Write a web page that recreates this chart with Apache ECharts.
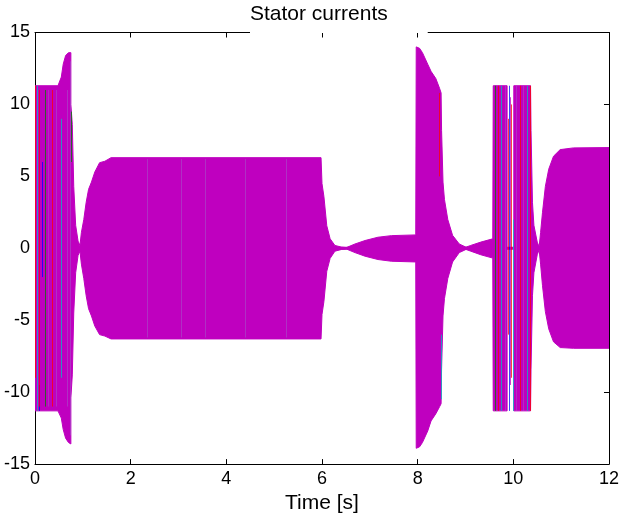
<!DOCTYPE html>
<html>
<head>
<meta charset="utf-8">
<script src="https://cdn.jsdelivr.net/npm/echarts@6/dist/echarts.min.js"></script>
<style>html,body{margin:0;padding:0;background:#fff}#c{width:622px;height:519px}</style>
</head>
<body>
<div id="c"></div>
<script>
// ---- data ----
const titleText = 'Stator currents';
const xName = 'Time [s]';
const xTicks = [0, 2, 4, 6, 8, 10, 12];
const yTicks = [-15, -10, -5, 0, 5, 10, 15];

// envelope of the stator phase currents: time [s], upper peak [A], lower peak [A]
const envTime = [0, 0.48, 0.55, 0.59, 0.64, 0.70, 0.75, 0.75, 0.78, 0.81, 0.85, 0.90, 0.94, 0.97, 1.02, 1.07, 1.12, 1.18, 1.25, 1.35, 1.46, 1.59,
  5.98, 6.00, 6.04, 6.10, 6.17, 6.27, 6.41, 6.51, 6.69, 6.90, 7.17, 7.45, 7.96,
  7.97, 8.04, 8.10, 8.21, 8.28, 8.38, 8.46, 8.49, 8.50, 8.53, 8.56, 8.63, 8.73, 8.87, 9.01, 9.11, 9.32, 9.57,
  9.58, 9.87, 9.87, 10.01, 10.01, 10.36, 10.37, 10.40, 10.43, 10.50, 10.54, 10.57, 10.61, 10.67, 10.74, 10.84, 10.98, 11.26, 12.0];
const envUpper = [11.3, 11.3, 11.9, 12.8, 13.4, 13.6, 13.6, 10.0, 8.6, 4.3, 1.6, 0.5, 0.2, 1.1, 2.0, 3.2, 4.1, 4.6, 5.3, 5.95, 6.05, 6.3,
  6.3, 4.5, 3.6, 1.57, 0.66, 0.2, 0.08, 0.05, 0.3, 0.54, 0.77, 0.88, 0.93,
  14.0, 13.9, 13.6, 12.8, 12.3, 11.8, 11.1, 10.8, 8.2, 4.6, 3.4, 2.0, 0.9, 0.3, 0.08, 0.2, 0.43, 0.66,
  11.3, 11.3, 0, 0, 11.3, 11.3, 8.2, 3.2, 1.6, 0.43, 0.1, 1.1, 2.5, 4.3, 5.5, 6.4, 6.86, 6.98, 7.0];
const envLower = [-11.3, -11.3, -11.8, -12.6, -13.2, -13.5, -13.6, -10.4, -8.8, -4.5, -1.7, -0.5, -0.2, -1.1, -2.1, -3.3, -4.2, -4.7, -5.4, -6.0, -6.1, -6.3,
  -6.3, -4.6, -3.7, -1.6, -0.7, -0.2, -0.08, -0.05, -0.3, -0.55, -0.78, -0.9, -0.95,
  -13.9, -13.8, -13.5, -12.7, -12.0, -11.5, -11.0, -10.8, -8.4, -4.7, -3.5, -2.1, -0.95, -0.3, -0.08, -0.2, -0.45, -0.68,
  -11.3, -11.3, 0, 0, -11.3, -11.3, -8.4, -3.3, -1.7, -0.45, -0.1, -1.1, -2.6, -4.4, -5.6, -6.5, -6.9, -6.95, -6.95];

// individual phase traces that stand out of the magenta envelope: time [s], low, high, phase
const stripeTime  = [0.01, 0.04, 0.08, 0.09, 0.14, 0.20, 0.27, 0.36, 0.44, 0.55, 0.66, 0.74, 0.76,
  2.35, 3.05, 3.55, 4.4, 5.25,
  8.45, 8.48, 9.61, 9.68, 9.75, 9.82, 9.89, 9.91, 9.94, 9.96, 9.99, 10.06, 10.13, 10.21, 10.28, 10.34];
const stripeLow   = [-9.0, -11.3, -11.3, -11.0, -2.0, -11.0, -11.0, -11.0, -11.0, -9.0, -11.0, -13.0, 6.0,
  -6.2, -6.2, -6.2, -6.2, -6.2,
  5.0, -10.5, -11.3, -11.3, -11.3, -11.3, -6.0, -11.3, -9.5, -9.0, -11.3, -11.3, -11.3, -11.3, -11.3, -11.3];
const stripeHigh  = [11.3, 11.3, -9.5, 11.0, 6.0, 11.0, 11.0, 11.0, 11.0, 9.0, 11.0, 13.0, 9.5,
  6.2, 6.2, 6.2, 6.2, 6.2,
  10.8, -6.0, 11.3, 11.3, 11.3, 11.3, 9.0, 11.3, 10.5, 10.0, 2.0, 11.3, 11.3, 11.3, 11.3, 11.3];
const stripePhase = ['a', 'd', 'c', 'a', 'c', 'b', 'e', 'a', 'e', 'd', 'e', 'e', 'b',
  'e', 'e', 'e', 'e', 'e',
  'a', 'd', 'b', 'a', 'd', 'e', 'a', 'c', 'm', 'a', 'd', 'e', 'a', 'e', 'd', 'a'];

// ---- styles ----
const MAG = '#bf00bf';
const phaseColor = { a: '#ff0000', b: '#008000', c: '#0000ff', d: '#00bfbf', e: '#a455c8', m: MAG };
const FONT = '"Liberation Sans", Arial, Helvetica, sans-serif';

const upperData = envTime.map((t, i) => [t, envUpper[i]]);
const lowerData = envTime.map((t, i) => [t, envLower[i]]);
const stripeData = stripeTime.map((t, i) => [t, stripeLow[i], stripeHigh[i], stripePhase[i]]);

const chart = echarts.init(document.getElementById('c'), null, { renderer: 'canvas' });

const axisCommon = {
  type: 'value',
  axisLine: { show: true, onZero: false, lineStyle: { color: '#000', width: 1 } },
  axisTick: { show: true, inside: true, length: 5, lineStyle: { color: '#000', width: 1 } },
  splitLine: { show: false }
};

chart.setOption({
  animation: false,
  backgroundColor: '#fff',
  title: {
    text: titleText,
    left: 250, top: 0,
    padding: [4, 40, 8, 0],
    backgroundColor: '#fff',
    z: 20,
    textStyle: { fontFamily: FONT, fontSize: 21, fontWeight: 'normal', color: '#000' }
  },
  grid: { left: 35, right: 10, top: 32.5, bottom: 51.5, containLabel: false },
  xAxis: [
    Object.assign({}, axisCommon, {
      position: 'bottom', min: xTicks[0], max: xTicks[xTicks.length - 1], interval: 2,
      axisLabel: { color: '#000', fontFamily: FONT, fontSize: 18, margin: 6 },
      name: xName, nameLocation: 'middle', nameGap: 28,
      nameTextStyle: { color: '#000', fontFamily: FONT, fontSize: 21 }
    }),
    Object.assign({}, axisCommon, {
      position: 'top', min: xTicks[0], max: xTicks[xTicks.length - 1], interval: 2,
      axisLabel: { show: false }
    })
  ],
  yAxis: [
    Object.assign({}, axisCommon, {
      position: 'left', min: yTicks[0], max: yTicks[yTicks.length - 1], interval: 5,
      axisLabel: { color: '#000', fontFamily: FONT, fontSize: 18, margin: 5 }
    }),
    Object.assign({}, axisCommon, {
      position: 'right', min: yTicks[0], max: yTicks[yTicks.length - 1], interval: 5,
      axisLabel: { show: false }
    })
  ],
  series: [
    {
      type: 'line', data: upperData, symbol: 'none', z: 2,
      lineStyle: { color: MAG, width: 1 }, areaStyle: { color: MAG, opacity: 1, origin: -0.1 }
    },
    {
      type: 'line', data: lowerData, symbol: 'none', z: 2,
      lineStyle: { color: MAG, width: 1 }, areaStyle: { color: MAG, opacity: 1, origin: 0.1 }
    },
    {
      type: 'custom', data: stripeData, z: 3, clip: true,
      renderItem: function (params, api) {
        const t = api.value(0), lo = api.value(1), hi = api.value(2);
        const ph = stripeData[params.dataIndex][3];
        const p1 = api.coord([t, lo]);
        const p2 = api.coord([t, hi]);
        const x = Math.round(p1[0]) + 0.5;
        return {
          type: 'line',
          shape: { x1: x, y1: p1[1], x2: x, y2: p2[1] },
          style: { stroke: phaseColor[ph], lineWidth: 1, opacity: ph === 'e' ? 0.55 : 0.75 }
        };
      }
    }
  ]
});
</script>
</body>
</html>
